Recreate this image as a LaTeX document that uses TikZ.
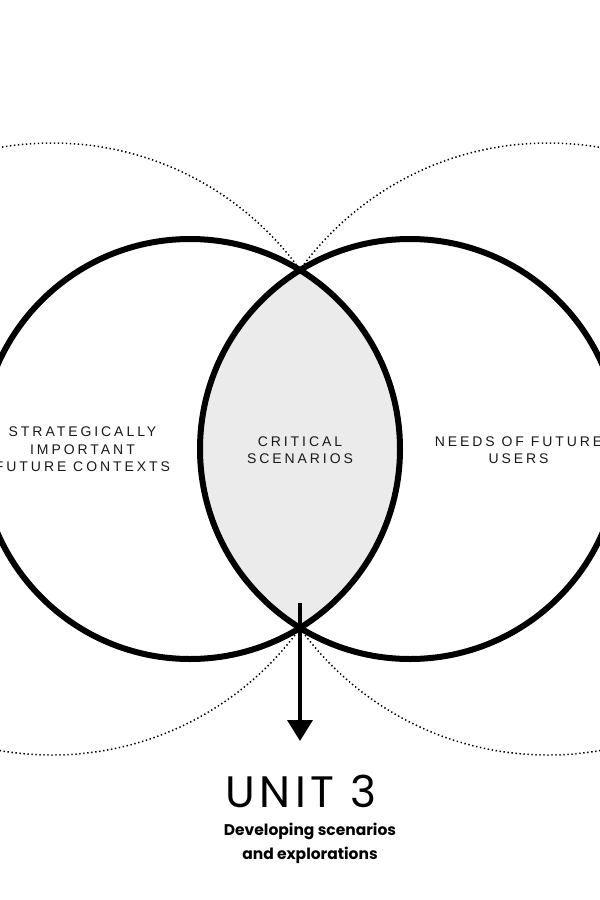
\documentclass[tikz,border=0pt]{standalone}
\usepackage{fontspec}
\usetikzlibrary{arrows.meta}
\newfontfamily\labfont[LetterSpace=21]{Liberation Sans}
\newfontfamily\popfont[LetterSpace=10]{Poppins}
\newfontfamily\subfont{Poppins}
\definecolor{lensgray}{HTML}{EBEBEB}
\tikzset{
  solidring/.style={line width=6pt, draw=black},
  dotring/.style={line width=1.5pt, draw=black, dash pattern=on 1.4pt off 2.6pt},
  caplabel/.style={align=center, font=\labfont\fontsize{14}{17.5}\selectfont, inner sep=0pt, text=black!90},
}
\begin{document}
\begin{tikzpicture}[x=1pt,y=-1pt]
\useasboundingbox (0,0) rectangle (600,900);
\fill[white] (0,0) rectangle (600,900);
% dotted rings
\draw[dotring] (52,449) circle (306);
\draw[dotring] (548,449) circle (306);
% white discs hide the dotted rings inside
\fill[white] (190,449) circle (210);
\fill[white] (410,449) circle (210);
% lens fill
\begin{scope}
  \clip (190,449) circle (210);
  \fill[lensgray] (410,449) circle (210);
\end{scope}
% solid rings
\draw[solidring] (190,449) circle (210);
\draw[solidring] (410,449) circle (210);
% labels
\node[caplabel] (left) at (82.5,449.5) {STRATEGICALLY\\IMPORTANT\\FUTURE CONTEXTS};
\node[caplabel] (mid) at (300,450) {CRITICAL\\SCENARIOS};
\node[caplabel] (right) at (518.5,450) {NEEDS OF FUTURE\\USERS};
% arrow
\coordinate (astart) at (300,603);
\coordinate (aend) at (300,741);
\draw[line width=4pt, -{Triangle[width=25pt,length=21pt]}] (astart) -- (aend);
% title
\node[inner sep=0pt, anchor=base, font=\popfont\fontsize{44}{44}\selectfont] (unit) at (301,807) {UNIT 3};
\node[inner sep=0pt, align=center, anchor=north, font=\subfont\bfseries\fontsize{15.5}{24}\selectfont] (sub) at (310,823) {Developing scenarios\\and explorations};
\end{tikzpicture}
\end{document}
